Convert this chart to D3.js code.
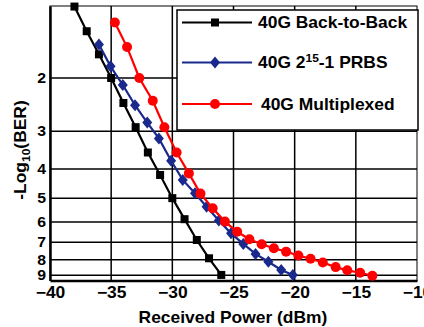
<!DOCTYPE html>
<html>
<head>
<meta charset="utf-8">
<script src="https://cdn.jsdelivr.net/npm/d3@7"></script>
<style>
  html, body { margin: 0; padding: 0; background: #fff; }
  svg { display: block; }
  text { font-family: "Liberation Sans", Arial, sans-serif; font-weight: bold; fill: #000; }
</style>
</head>
<body>
<svg id="chart" width="424" height="327"></svg>
<script>
// Received optical power (dBm) and -log10(BER) for each measurement set
const b2bPower = [-38, -37, -36, -35, -34, -33, -32, -31, -30, -29, -28, -27, -26];
const b2bBer   = [1.16, 1.40, 1.67, 2.00, 2.42, 2.91, 3.53, 4.19, 5.00, 5.87, 6.88, 7.91, 8.98];

const prbsPower = [-36, -35.05, -34.05, -33.05, -32.05, -31.1, -30.1, -29.15, -28.15, -27.2, -26.2, -25.2, -24.2, -23.2, -22.15, -21.1, -20.15];
const prbsBer   = [1.55, 1.83, 2.11, 2.46, 2.81, 3.17, 3.76, 4.35, 4.82, 5.34, 5.93, 6.54, 7.09, 7.65, 8.12, 8.65, 8.98];

const muxPower = [-34.7, -33.7, -32.7, -31.6, -30.65, -29.65, -28.65, -27.7, -26.7, -25.7, -24.7, -23.7, -22.7, -21.7, -20.7, -19.7, -18.7, -17.7, -16.65, -15.7, -14.65, -13.65];
const muxBer   = [1.31, 1.58, 2.00, 2.38, 2.91, 3.53, 4.14, 4.83, 5.40, 5.98, 6.46, 6.84, 7.11, 7.33, 7.52, 7.74, 7.94, 8.17, 8.46, 8.67, 8.83, 9.04];

const xTicks = [-40, -35, -30, -25, -20, -15, -10];
const yTicks = [2, 3, 4, 5, 6, 7, 8, 9];

const seriesNames = ["40G Back-to-Back", "40G 2", "40G Multiplexed"];

const FONT = 16;       // label size
const WIDEN = 1.09;    // horizontal stretch of the bold lettering

const svg = d3.select("#chart");
const plot = { left: 50, top: 6, right: 417, bottom: 280.5 };

const x = d3.scaleLinear().domain([-40, -10]).range([plot.left, plot.right]);
const y = d3.scaleLog().domain([1.155, 9.37]).range([plot.top, plot.bottom]);

const series = [
  { name: seriesNames[0], color: "#000000", shape: "square",  xs: b2bPower,  ys: b2bBer },
  { name: seriesNames[1], color: "#1a2a8c", shape: "diamond", xs: prbsPower, ys: prbsBer },
  { name: seriesNames[2], color: "#ff0000", shape: "circle",  xs: muxPower,  ys: muxBer }
];

// stretch a text horizontally about its own anchor point
function widen(sel) {
  sel.each(function () {
    const t = d3.select(this);
    const ax = +t.attr("x") || 0, ay = +t.attr("y") || 0;
    const prev = t.attr("transform") || "";
    t.attr("transform", `${prev} translate(${ax},${ay}) scale(${WIDEN},1) translate(${-ax},${-ay})`);
  });
}

// Grid lines
const grid = svg.append("g");
grid.selectAll("line.v").data(xTicks.slice(1, -1)).join("line")
  .attr("x1", d => x(d)).attr("x2", d => x(d))
  .attr("y1", plot.top).attr("y2", plot.bottom)
  .attr("stroke", "#000").attr("stroke-width", 1.5);
grid.selectAll("line.h").data(yTicks).join("line")
  .attr("x1", plot.left).attr("x2", plot.right)
  .attr("y1", d => y(d)).attr("y2", d => y(d))
  .attr("stroke", "#000").attr("stroke-width", 1.5);

// Plot frame
svg.append("rect")
  .attr("x", plot.left).attr("y", plot.top)
  .attr("width", plot.right - plot.left).attr("height", plot.bottom - plot.top)
  .attr("fill", "none").attr("stroke", "#000").attr("stroke-width", 1);

// Bottom and left axes
const xAxis = svg.append("g").attr("transform", `translate(0,${plot.bottom})`)
  .call(d3.axisBottom(x).tickValues(xTicks).tickSize(0).tickPadding(6).tickFormat(d3.format("d")));
xAxis.select(".domain").attr("stroke-width", 2.5);
xAxis.selectAll("text").attr("font-size", FONT).style("font-family", "Liberation Sans, Arial, sans-serif").style("font-weight", "bold").call(widen);

const yAxis = svg.append("g").attr("transform", `translate(${plot.left},0)`)
  .call(d3.axisLeft(y).tickValues(yTicks).tickSize(0).tickPadding(4).tickFormat(d3.format("d")));
yAxis.select(".domain").attr("stroke-width", 2.5);
yAxis.selectAll("text").attr("font-size", 14.5).style("font-family", "Liberation Sans, Arial, sans-serif").style("font-weight", "bold").call(widen);

// Axis titles
svg.append("text")
  .attr("x", 233).attr("y", 323)
  .attr("text-anchor", "middle").attr("font-size", FONT)
  .text("Received Power (dBm)").call(widen);

const yTitle = svg.append("text")
  .attr("transform", `translate(26,150) rotate(-90) scale(${WIDEN},1)`)
  .attr("text-anchor", "middle").attr("font-size", FONT);
yTitle.append("tspan").text("-Log");
yTitle.append("tspan").attr("font-size", 11).attr("dy", 4).text("10");
yTitle.append("tspan").attr("dy", -4).text("(BER)");

// Marker drawing
function drawMarker(g, shape, color, cx, cy) {
  if (shape === "square") {
    g.append("rect").attr("x", cx - 4).attr("y", cy - 4).attr("width", 8).attr("height", 8).attr("fill", color);
  } else if (shape === "diamond") {
    g.append("path").attr("d", `M${cx},${cy - 6}L${cx + 5},${cy}L${cx},${cy + 6}L${cx - 5},${cy}Z`).attr("fill", color);
  } else {
    g.append("circle").attr("cx", cx).attr("cy", cy).attr("r", 5).attr("fill", color);
  }
}

// Legend
const legend = svg.append("g");
legend.append("rect")
  .attr("x", 177).attr("y", 10).attr("width", 241).attr("height", 120)
  .attr("fill", "#fff").attr("stroke", "#000").attr("stroke-width", 1.5);
const legendRows = [22.5, 62.5, 104];
series.forEach((s, i) => {
  const ly = legendRows[i];
  legend.append("line").attr("x1", 182).attr("x2", 252).attr("y1", ly).attr("y2", ly)
    .attr("stroke", s.color).attr("stroke-width", 2);
  drawMarker(legend, s.shape, s.color, 215, ly);
  const t = legend.append("text").attr("x", i === 2 ? 261 : 258).attr("y", ly + 6).attr("font-size", FONT);
  t.append("tspan").text(s.name);
  if (i === 1) {
    t.append("tspan").attr("font-size", 11).attr("dy", -6).text("15");
    t.append("tspan").attr("dy", 6).text("-1 PRBS");
  }
  t.call(widen);
});

// Curves and markers
const curves = svg.append("g");
series.forEach(s => {
  const pts = s.xs.map((v, i) => [x(v), y(s.ys[i])]);
  curves.append("path")
    .attr("d", d3.line()(pts))
    .attr("fill", "none").attr("stroke", s.color).attr("stroke-width", 2.2);
  const mg = curves.append("g");
  pts.forEach(p => drawMarker(mg, s.shape, s.color, p[0], p[1]));
});
</script>
</body>
</html>
